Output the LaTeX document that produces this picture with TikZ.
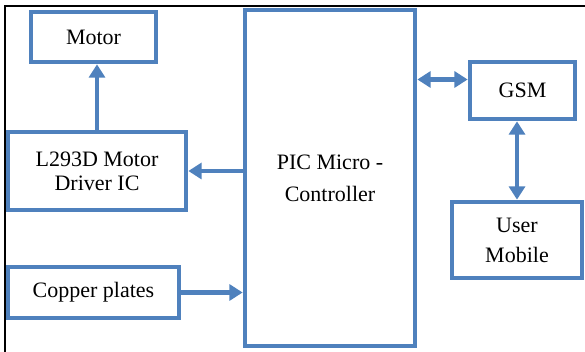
\documentclass[tikz,border=0pt]{standalone}
\usepackage{fontspec}
\setmainfont{Liberation Serif}
\usetikzlibrary{arrows.meta,calc}
\definecolor{azulbloque}{RGB}{79,129,189}
\tikzset{
  bloque/.style={draw=azulbloque, line width=3.5pt, align=center, inner sep=0pt,
    font=\fontsize{16.5}{18}\selectfont},
  flecha/.style={draw=azulbloque, line width=3.5pt,
    -{Triangle[length=10pt,width=12pt]}},
  dflecha/.style={draw=azulbloque, line width=3.5pt,
    {Triangle[length=10pt,width=12pt]}-{Triangle[length=10pt,width=12pt]}}
}
\begin{document}
\begin{tikzpicture}[x=0.75pt,y=-0.75pt]
            \useasboundingbox (0,0) rectangle (585,352);
            % Marco
            \draw[line width=1.5pt] (5,352) -- (5,6) -- (585,6);
            % Bloques
            \node[bloque, minimum width=93.75pt, minimum height=37.5pt] (motor) at (93.5,37) {Motor};
            \node[bloque, minimum width=133.5pt, minimum height=58.5pt] (driver) at (97,171) {L293D Motor\\Driver IC};
            \node[bloque, minimum width=128.25pt, minimum height=38.25pt] (cobre) at (93.5,292.5) {Copper plates};
            \node[bloque, minimum width=127.5pt, minimum height=252pt, font=\fontsize{16.5}{24}\selectfont] (pic) at (330,178) {PIC Micro -\\Controller};
            \node[bloque, minimum width=78.75pt, minimum height=42.75pt] (gsm) at (522.5,90.5) {GSM};
            \node[bloque, minimum width=97.5pt, minimum height=57pt, font=\fontsize{16.5}{22.5}\selectfont] (movil) at (517,240) {User\\Mobile};
            % Flechas
            \draw[flecha] (driver.north) -- (driver.north |- motor.south);
            \draw[flecha] (pic.west |- driver.east) -- (driver.east);
            \draw[flecha] (cobre.east) -- (cobre.east -| pic.west);
            \coordinate (gsmin) at ($(gsm.west)+(0,-11)$);
            \draw[dflecha] (pic.east |- gsmin) -- (gsmin);
            \draw[dflecha] (movil.north |- gsm.south) -- (movil.north);
\end{tikzpicture}
\end{document}
